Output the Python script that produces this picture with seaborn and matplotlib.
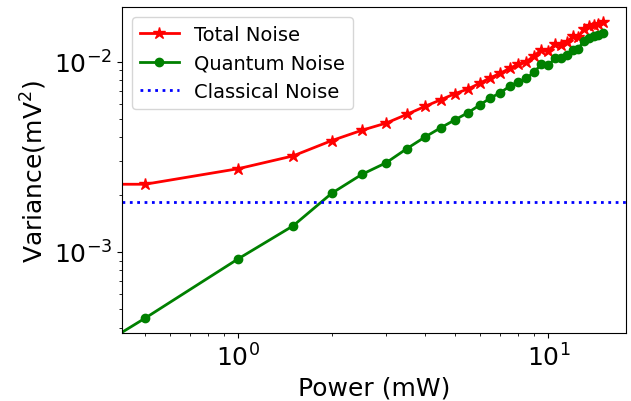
import matplotlib
matplotlib.use("Agg")
import matplotlib.pyplot as plt
import matplotlib.ticker as mticker
import seaborn as sns
import pandas as pd

power = [0.0, 0.5, 1.0, 1.5, 2.0, 2.5, 3.0, 3.5, 4.0, 4.5, 5.0, 5.5, 6.0, 6.5,
         7.0, 7.5, 8.0, 8.5, 9.0, 9.5, 10.0, 10.5, 11.0, 11.5, 12.0, 12.5,
         13.0, 13.5, 14.0, 14.5, 15.0]

total_noise = [1.83e-3, 2.265e-3, 2.735e-3, 3.19e-3, 3.84e-3, 4.35e-3, 4.75e-3,
               5.28e-3, 5.81e-3, 6.30e-3, 6.78e-3, 7.17e-3, 7.68e-3, 8.22e-3,
               8.67e-3, 9.21e-3, 9.67e-3, 9.98e-3, 1.072e-2, 1.153e-2, 1.14e-2,
               1.231e-2, 1.225e-2, 1.27e-2, 1.355e-2, 1.345e-2, 1.48e-2,
               1.53e-2, 1.556e-2, 1.57e-2, 1.62e-2]

quantum_noise = [0.0, 4.48e-4, 9.2e-4, 1.368e-3, 2.03e-3, 2.55e-3, 2.94e-3,
                 3.49e-3, 4.01e-3, 4.49e-3, 4.94e-3, 5.38e-3, 5.90e-3, 6.43e-3,
                 6.86e-3, 7.41e-3, 7.83e-3, 8.16e-3, 8.81e-3, 9.67e-3, 9.55e-3,
                 1.04e-2, 1.043e-2, 1.081e-2, 1.153e-2, 1.163e-2, 1.286e-2,
                 1.327e-2, 1.367e-2, 1.38e-2, 1.42e-2]

classical_noise = 1.82e-3

df = pd.DataFrame({"power": power, "total": total_noise, "quantum": quantum_noise})

fig = plt.figure(figsize=(6.31, 4.02), dpi=100)
ax = fig.add_axes([0.1938, 0.1684, 0.9916 - 0.1938, 0.9794 - 0.1684])

sns.lineplot(data=df, x="power", y="total", ax=ax, color="red", marker="*",
             markersize=9, markeredgecolor="red", markeredgewidth=1,
             linewidth=2, label="Total Noise")
sns.lineplot(data=df, x="power", y="quantum", ax=ax, color="green", marker="o",
             markersize=6, markeredgecolor="green", markeredgewidth=1,
             linewidth=2, label="Quantum Noise")
ax.axhline(classical_noise, color="blue", linestyle=":", linewidth=2,
           label="Classical Noise")

ax.set_xscale("log")
ax.set_yscale("log")
ax.set_xlim(0.422, 17.77)
ax.set_ylim(3.73e-4, 1.928e-2)
ax.xaxis.set_minor_formatter(mticker.NullFormatter())
ax.yaxis.set_minor_formatter(mticker.NullFormatter())

ax.tick_params(axis="both", which="major", labelsize=18)
ax.set_xlabel("Power (mW)", fontsize=18)
ax.set_ylabel("Variance(mV$^{2}$)", fontsize=18)
ax.legend(loc="upper left", fontsize=14)

fig.savefig("out.png", dpi=100)
